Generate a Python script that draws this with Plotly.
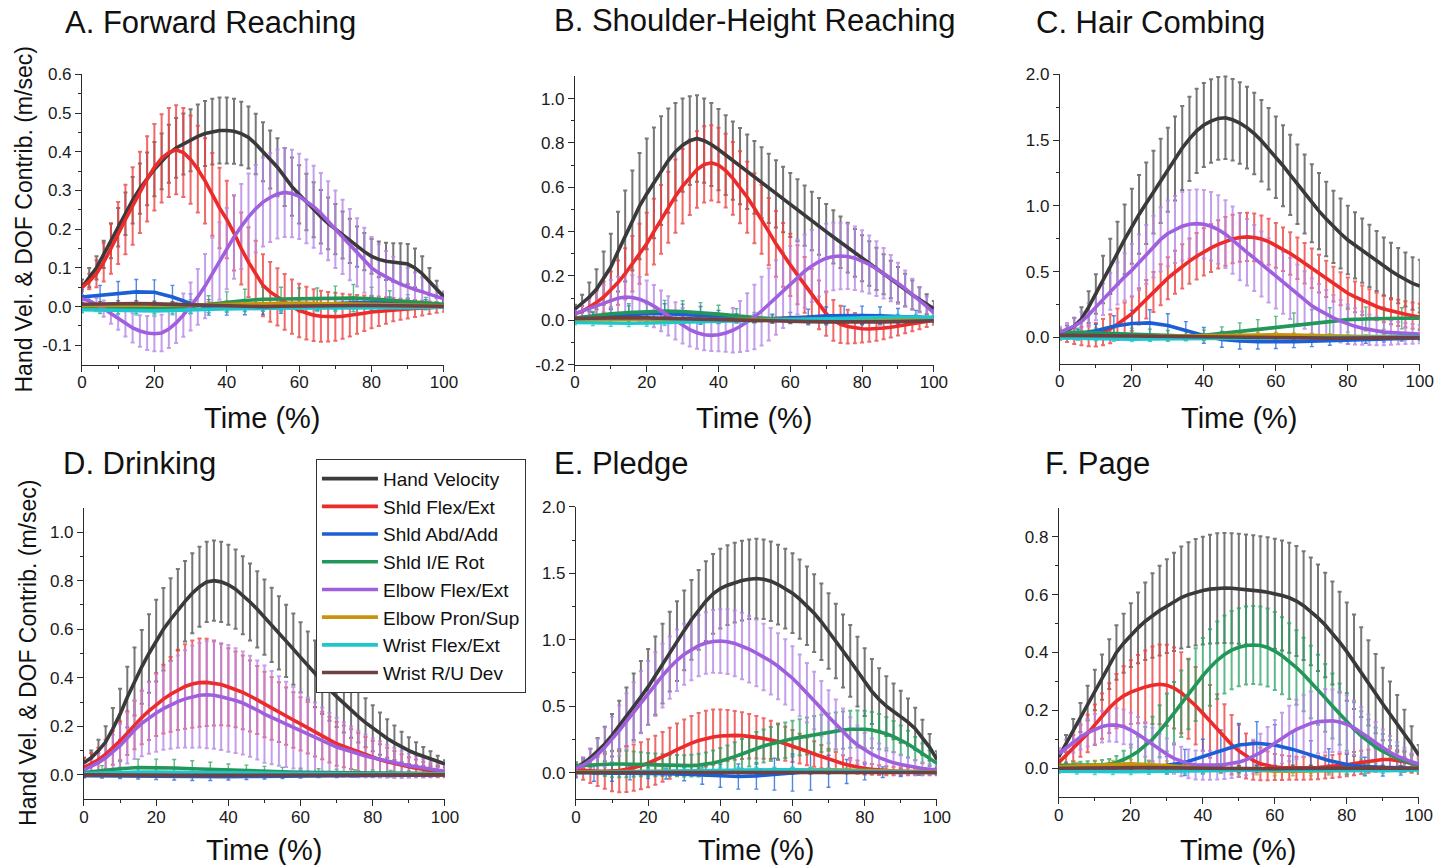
import plotly.graph_objects as go

W, H = 1446, 865

# Time base (% of movement): main contributors sampled every 2 %, small ones every 5 %
T2 = list(range(0, 101, 2))
T5 = list(range(0, 101, 5))

SERIES = ["Hand Velocity", "Shld Flex/Ext", "Shld Abd/Add", "Shld I/E Rot",
          "Elbow Flex/Ext", "Elbow Pron/Sup", "Wrist Flex/Ext", "Wrist R/U Dev"]

LINE_COLORS = ["#3a3a3a", "#ec2b2b", "#1c5fd4", "#23975a",
               "#a060de", "#c8940c", "#1fc6cc", "#6e4242"]
BAR_COLORS = ["rgba(95,95,95,0.85)", "rgba(236,66,66,0.8)", "rgba(35,105,225,0.8)", "rgba(40,160,95,0.75)",
              "rgba(182,134,230,0.8)", "rgba(205,155,30,0.8)", "rgba(35,200,205,0.8)", "rgba(120,75,75,0.8)"]

# ---------------- A. Forward Reaching ----------------
A_HAND = [0.05, 0.075, 0.10, 0.135, 0.17, 0.205, 0.24, 0.275, 0.305, 0.33,
          0.355, 0.375, 0.395, 0.41, 0.42, 0.43, 0.44, 0.447, 0.452, 0.455,
          0.455, 0.453, 0.447, 0.437, 0.42, 0.40, 0.38, 0.36, 0.335, 0.31,
          0.29, 0.27, 0.25, 0.232, 0.215, 0.20, 0.185, 0.17, 0.155, 0.142,
          0.13, 0.122, 0.117, 0.114, 0.112, 0.11, 0.10, 0.085, 0.065, 0.045, 0.025]
A_HAND_SD = [0.02, 0.025, 0.03, 0.035, 0.045, 0.05, 0.055, 0.06, 0.065, 0.068,
             0.07, 0.072, 0.075, 0.077, 0.079, 0.08, 0.082, 0.084, 0.085, 0.085,
             0.085, 0.084, 0.082, 0.08, 0.078, 0.076, 0.075, 0.075, 0.075, 0.075,
             0.075, 0.073, 0.071, 0.069, 0.067, 0.065, 0.061, 0.057, 0.052, 0.048,
             0.045, 0.046, 0.048, 0.05, 0.052, 0.052, 0.05, 0.045, 0.035, 0.022, 0.01]
A_FLEX = [0.05, 0.065, 0.085, 0.115, 0.15, 0.19, 0.225, 0.26, 0.295, 0.33,
          0.36, 0.383, 0.398, 0.405, 0.398, 0.38, 0.355, 0.325, 0.29, 0.255,
          0.225, 0.19, 0.15, 0.115, 0.085, 0.055, 0.038, 0.025, 0.012, 0.0,
          -0.01, -0.017, -0.022, -0.025, -0.026, -0.026, -0.025, -0.023, -0.02, -0.017,
          -0.014, -0.012, -0.01, -0.008, -0.007, -0.006, -0.005, -0.004, -0.003, -0.002, -0.001]
A_FLEX_SD = [0.01, 0.02, 0.035, 0.05, 0.065, 0.08, 0.09, 0.1, 0.105, 0.11,
             0.112, 0.114, 0.115, 0.115, 0.115, 0.114, 0.112, 0.11, 0.107, 0.104,
             0.1, 0.097, 0.093, 0.09, 0.085, 0.08, 0.077, 0.074, 0.072, 0.07,
             0.069, 0.068, 0.067, 0.066, 0.064, 0.062, 0.058, 0.054, 0.05, 0.046,
             0.042, 0.038, 0.034, 0.03, 0.027, 0.025, 0.022, 0.019, 0.016, 0.014, 0.012]
A_ELB = [0.02, 0.015, 0.005, -0.005, -0.018, -0.03, -0.043, -0.055, -0.063, -0.068,
         -0.07, -0.068, -0.058, -0.042, -0.022, 0.0, 0.025, 0.053, 0.085, 0.118,
         0.15, 0.18, 0.207, 0.232, 0.253, 0.27, 0.282, 0.291, 0.295, 0.292,
         0.285, 0.272, 0.258, 0.241, 0.222, 0.2, 0.18, 0.16, 0.14, 0.12,
         0.1, 0.087, 0.076, 0.067, 0.058, 0.05, 0.044, 0.038, 0.032, 0.026, 0.02]
A_ELB_SD = [0.01, 0.013, 0.017, 0.021, 0.026, 0.03, 0.034, 0.038, 0.041, 0.044,
            0.045, 0.047, 0.049, 0.052, 0.056, 0.062, 0.072, 0.083, 0.093, 0.1,
            0.105, 0.108, 0.11, 0.112, 0.113, 0.115, 0.115, 0.115, 0.115, 0.113,
            0.11, 0.108, 0.106, 0.104, 0.102, 0.1, 0.096, 0.092, 0.088, 0.084,
            0.08, 0.074, 0.068, 0.062, 0.056, 0.05, 0.044, 0.038, 0.032, 0.026, 0.02]
A_ABD = [0.025, 0.03, 0.035, 0.038, 0.037, 0.025, 0.008, -0.002, -0.005, -0.006, -0.005,
         -0.002, 0.002, 0.005, 0.008, 0.01, 0.012, 0.012, 0.01, 0.008, 0.005]
A_ABD_SD = [0.02, 0.025, 0.03, 0.032, 0.032, 0.03, 0.025, 0.02, 0.017, 0.015, 0.015,
            0.015, 0.015, 0.015, 0.015, 0.015, 0.015, 0.013, 0.012, 0.01, 0.008]
A_ROT = [-0.005, -0.005, -0.006, -0.006, -0.005, -0.003, 0.0, 0.006, 0.012, 0.016, 0.019,
         0.02, 0.02, 0.02, 0.021, 0.022, 0.02, 0.017, 0.013, 0.01, 0.006]
A_ROT_SD = [0.01, 0.012, 0.012, 0.012, 0.013, 0.015, 0.018, 0.022, 0.026, 0.029, 0.031,
            0.03, 0.028, 0.028, 0.032, 0.035, 0.03, 0.024, 0.018, 0.014, 0.01]
A_PRON = [0.003, 0.003, 0.002, 0.002, 0.002, 0.003, 0.004, 0.005, 0.006, 0.007, 0.008,
          0.009, 0.009, 0.008, 0.008, 0.007, 0.006, 0.005, 0.004, 0.003, 0.002]
A_PRON_SD = [0.006, 0.006, 0.007, 0.007, 0.007, 0.007, 0.008, 0.008, 0.009, 0.009, 0.01,
             0.01, 0.01, 0.01, 0.01, 0.009, 0.009, 0.008, 0.007, 0.006, 0.005]
A_WFE = [-0.008, -0.009, -0.01, -0.011, -0.011, -0.01, -0.008, -0.006, -0.005, -0.004, -0.004,
         -0.004, -0.005, -0.005, -0.005, -0.005, -0.004, -0.004, -0.003, -0.002, -0.001]
A_WFE_SD = [0.008, 0.009, 0.01, 0.011, 0.011, 0.011, 0.01, 0.009, 0.008, 0.008, 0.008,
            0.008, 0.008, 0.008, 0.008, 0.008, 0.008, 0.007, 0.007, 0.006, 0.005]
A_RUD = [0.006, 0.007, 0.008, 0.008, 0.007, 0.006, 0.004, 0.002, 0.001, 0.0, 0.0,
         0.001, 0.002, 0.003, 0.003, 0.003, 0.003, 0.002, 0.002, 0.001, 0.001]
A_RUD_SD = [0.005, 0.006, 0.007, 0.007, 0.007, 0.006, 0.006, 0.005, 0.005, 0.005, 0.005,
            0.005, 0.005, 0.005, 0.005, 0.005, 0.005, 0.005, 0.004, 0.004, 0.004]

# ---------------- B. Shoulder-Height Reaching ----------------
B_HAND = [0.05, 0.075, 0.105, 0.14, 0.19, 0.24, 0.31, 0.38, 0.45, 0.515,
          0.57, 0.62, 0.675, 0.72, 0.76, 0.79, 0.81, 0.82, 0.81, 0.793,
          0.77, 0.745, 0.72, 0.695, 0.67, 0.645, 0.62, 0.595, 0.57, 0.545,
          0.52, 0.496, 0.472, 0.448, 0.424, 0.4, 0.376, 0.352, 0.328, 0.304,
          0.28, 0.256, 0.232, 0.208, 0.184, 0.16, 0.137, 0.115, 0.094, 0.073, 0.052]
B_HAND_SD = [0.02, 0.04, 0.065, 0.09, 0.12, 0.15, 0.18, 0.205, 0.225, 0.24,
             0.25, 0.25, 0.245, 0.235, 0.22, 0.21, 0.2, 0.195, 0.19, 0.187,
             0.183, 0.18, 0.176, 0.172, 0.168, 0.164, 0.16, 0.156, 0.152, 0.148,
             0.144, 0.14, 0.136, 0.132, 0.128, 0.124, 0.12, 0.116, 0.112, 0.108,
             0.104, 0.1, 0.095, 0.09, 0.085, 0.08, 0.073, 0.065, 0.055, 0.045, 0.035]
B_FLEX = [0.03, 0.04, 0.06, 0.08, 0.105, 0.135, 0.17, 0.21, 0.255, 0.3,
          0.345, 0.4, 0.455, 0.51, 0.56, 0.605, 0.645, 0.68, 0.703, 0.71,
          0.7, 0.675, 0.64, 0.6, 0.555, 0.505, 0.455, 0.4, 0.345, 0.295,
          0.25, 0.205, 0.16, 0.115, 0.07, 0.03, 0.0, -0.018, -0.028, -0.035,
          -0.038, -0.039, -0.038, -0.035, -0.031, -0.026, -0.02, -0.015, -0.01, -0.005, 0.0]
B_FLEX_SD = [0.01, 0.025, 0.04, 0.055, 0.07, 0.085, 0.1, 0.115, 0.125, 0.135,
             0.14, 0.148, 0.155, 0.16, 0.165, 0.168, 0.17, 0.172, 0.172, 0.17,
             0.168, 0.166, 0.164, 0.162, 0.16, 0.158, 0.155, 0.152, 0.148, 0.144,
             0.14, 0.133, 0.126, 0.118, 0.11, 0.1, 0.092, 0.084, 0.076, 0.068,
             0.062, 0.058, 0.054, 0.05, 0.046, 0.042, 0.038, 0.034, 0.03, 0.025, 0.02]
B_ELB = [0.03, 0.042, 0.055, 0.068, 0.08, 0.092, 0.1, 0.105, 0.103, 0.095,
         0.082, 0.064, 0.043, 0.02, -0.003, -0.024, -0.042, -0.056, -0.065, -0.068,
         -0.065, -0.057, -0.045, -0.028, -0.008, 0.015, 0.042, 0.072, 0.103, 0.135,
         0.165, 0.195, 0.222, 0.245, 0.265, 0.28, 0.288, 0.29, 0.288, 0.28,
         0.268, 0.252, 0.233, 0.212, 0.19, 0.167, 0.143, 0.118, 0.092, 0.063, 0.033]
B_ELB_SD = [0.02, 0.035, 0.05, 0.065, 0.08, 0.09, 0.097, 0.1, 0.1, 0.1,
            0.098, 0.095, 0.092, 0.088, 0.084, 0.08, 0.076, 0.072, 0.07, 0.07,
            0.075, 0.085, 0.1, 0.115, 0.13, 0.145, 0.155, 0.163, 0.168, 0.17,
            0.17, 0.168, 0.165, 0.162, 0.158, 0.155, 0.152, 0.15, 0.147, 0.143,
            0.138, 0.131, 0.123, 0.114, 0.104, 0.093, 0.082, 0.07, 0.057, 0.044, 0.03]
B_ABD = [0.01, 0.015, 0.02, 0.025, 0.03, 0.03, 0.028, 0.022, 0.015, 0.01, 0.008,
         0.008, 0.01, 0.015, 0.02, 0.022, 0.022, 0.02, 0.018, 0.015, 0.01]
B_ABD_SD = [0.015, 0.02, 0.03, 0.04, 0.045, 0.045, 0.045, 0.04, 0.03, 0.02, 0.018,
            0.02, 0.025, 0.035, 0.04, 0.042, 0.042, 0.04, 0.035, 0.03, 0.02]
B_ROT = [0.01, 0.02, 0.03, 0.035, 0.04, 0.042, 0.04, 0.035, 0.028, 0.02, 0.012,
         0.006, 0.003, 0.002, 0.002, 0.003, 0.003, 0.003, 0.003, 0.003, 0.003]
B_ROT_SD = [0.01, 0.02, 0.03, 0.04, 0.045, 0.048, 0.048, 0.045, 0.04, 0.032, 0.024,
            0.018, 0.015, 0.014, 0.014, 0.014, 0.014, 0.013, 0.012, 0.011, 0.01]
B_PRON = [0.004, 0.005, 0.006, 0.006, 0.006, 0.005, 0.004, 0.003, 0.003, 0.003, 0.003,
          0.004, 0.005, 0.006, 0.006, 0.006, 0.005, 0.004, 0.003, 0.002, 0.001]
B_PRON_SD = [0.006, 0.007, 0.008, 0.008, 0.008, 0.008, 0.008, 0.007, 0.007, 0.007, 0.007,
             0.007, 0.008, 0.008, 0.008, 0.008, 0.008, 0.007, 0.006, 0.006, 0.005]
B_WFE = [-0.01, -0.012, -0.013, -0.013, -0.012, -0.01, -0.007, -0.004, -0.001, 0.001, 0.002,
         0.003, 0.004, 0.006, 0.008, 0.01, 0.012, 0.014, 0.015, 0.015, 0.014]
B_WFE_SD = [0.01, 0.012, 0.014, 0.015, 0.015, 0.014, 0.012, 0.01, 0.009, 0.009, 0.009,
            0.009, 0.01, 0.011, 0.012, 0.013, 0.014, 0.014, 0.013, 0.012, 0.01]
B_RUD = [0.008, 0.01, 0.012, 0.012, 0.011, 0.009, 0.006, 0.003, 0.0, -0.002, -0.003,
         -0.004, -0.005, -0.006, -0.007, -0.008, -0.008, -0.007, -0.006, -0.004, -0.002]
B_RUD_SD = [0.006, 0.007, 0.008, 0.008, 0.008, 0.007, 0.007, 0.006, 0.006, 0.006, 0.006,
            0.006, 0.006, 0.006, 0.006, 0.006, 0.006, 0.006, 0.005, 0.005, 0.004]

# ---------------- C. Hair Combing ----------------
C_HAND = [0.03, 0.05, 0.085, 0.14, 0.23, 0.33, 0.44, 0.54, 0.64, 0.745,
          0.845, 0.935, 1.02, 1.105, 1.19, 1.275, 1.36, 1.44, 1.51, 1.57,
          1.615, 1.645, 1.665, 1.67, 1.655, 1.63, 1.595, 1.55, 1.495, 1.435,
          1.37, 1.305, 1.235, 1.165, 1.09, 1.02, 0.96, 0.9, 0.84, 0.79,
          0.74, 0.7, 0.66, 0.62, 0.58, 0.54, 0.505, 0.47, 0.44, 0.41, 0.39]
C_HAND_SD = [0.02, 0.04, 0.065, 0.09, 0.12, 0.15, 0.18, 0.21, 0.24, 0.265,
             0.285, 0.3, 0.31, 0.315, 0.32, 0.32, 0.32, 0.32, 0.32, 0.32,
             0.32, 0.318, 0.315, 0.313, 0.31, 0.31, 0.31, 0.31, 0.31, 0.31,
             0.31, 0.308, 0.305, 0.302, 0.3, 0.297, 0.29, 0.283, 0.275, 0.267,
             0.26, 0.252, 0.244, 0.236, 0.228, 0.22, 0.215, 0.21, 0.205, 0.2, 0.2]
C_FLEX = [0.02, 0.015, 0.01, 0.01, 0.012, 0.02, 0.04, 0.065, 0.1, 0.14,
          0.18, 0.235, 0.29, 0.345, 0.4, 0.45, 0.495, 0.54, 0.58, 0.617,
          0.65, 0.68, 0.707, 0.73, 0.748, 0.76, 0.764, 0.76, 0.748, 0.728,
          0.7, 0.67, 0.638, 0.602, 0.564, 0.525, 0.485, 0.445, 0.405, 0.37,
          0.335, 0.308, 0.282, 0.258, 0.235, 0.215, 0.2, 0.187, 0.175, 0.165, 0.155]
C_FLEX_SD = [0.04, 0.05, 0.06, 0.07, 0.08, 0.09, 0.1, 0.11, 0.12, 0.125,
             0.13, 0.138, 0.146, 0.152, 0.156, 0.16, 0.164, 0.168, 0.172, 0.176,
             0.18, 0.182, 0.184, 0.185, 0.185, 0.185, 0.184, 0.182, 0.179, 0.175,
             0.17, 0.166, 0.162, 0.158, 0.154, 0.15, 0.144, 0.138, 0.132, 0.126,
             0.12, 0.116, 0.112, 0.108, 0.104, 0.1, 0.1, 0.1, 0.1, 0.1, 0.1]
C_ELB = [0.04, 0.06, 0.085, 0.12, 0.17, 0.23, 0.29, 0.35, 0.41, 0.46,
         0.51, 0.57, 0.63, 0.69, 0.745, 0.79, 0.82, 0.845, 0.86, 0.865,
         0.86, 0.845, 0.82, 0.785, 0.74, 0.69, 0.647, 0.603, 0.558, 0.51,
         0.46, 0.416, 0.372, 0.328, 0.284, 0.24, 0.207, 0.175, 0.148, 0.123,
         0.1, 0.084, 0.07, 0.058, 0.048, 0.04, 0.036, 0.032, 0.029, 0.027, 0.025]
C_ELB_SD = [0.04, 0.05, 0.06, 0.075, 0.09, 0.1, 0.12, 0.14, 0.16, 0.18,
            0.2, 0.212, 0.225, 0.235, 0.245, 0.25, 0.255, 0.26, 0.26, 0.26,
            0.26, 0.26, 0.26, 0.258, 0.256, 0.255, 0.253, 0.251, 0.248, 0.244,
            0.24, 0.236, 0.232, 0.225, 0.218, 0.21, 0.198, 0.186, 0.174, 0.162,
            0.15, 0.138, 0.126, 0.116, 0.108, 0.1, 0.092, 0.085, 0.08, 0.075, 0.07]
C_ABD = [0.02, 0.03, 0.05, 0.085, 0.105, 0.11, 0.09, 0.05, 0.015, -0.015, -0.028,
         -0.033, -0.035, -0.033, -0.03, -0.025, -0.02, -0.015, -0.01, -0.007, -0.005]
C_ABD_SD = [0.02, 0.03, 0.05, 0.08, 0.1, 0.1, 0.09, 0.07, 0.06, 0.06, 0.06,
            0.055, 0.05, 0.045, 0.04, 0.035, 0.03, 0.03, 0.025, 0.02, 0.02]
C_ROT = [0.04, 0.04, 0.035, 0.03, 0.025, 0.018, 0.012, 0.01, 0.015, 0.03, 0.05,
         0.065, 0.08, 0.095, 0.11, 0.125, 0.135, 0.14, 0.145, 0.145, 0.145]
C_ROT_SD = [0.03, 0.03, 0.035, 0.04, 0.045, 0.045, 0.04, 0.035, 0.04, 0.05, 0.06,
            0.07, 0.08, 0.09, 0.1, 0.1, 0.095, 0.09, 0.085, 0.08, 0.08]
C_PRON = [0.0, 0.0, 0.0, 0.002, 0.004, 0.006, 0.008, 0.01, 0.013, 0.017, 0.02,
          0.021, 0.02, 0.017, 0.013, 0.01, 0.008, 0.007, 0.006, 0.005, 0.005]
C_PRON_SD = [0.01, 0.01, 0.01, 0.011, 0.012, 0.013, 0.014, 0.015, 0.016, 0.017, 0.018,
             0.018, 0.017, 0.016, 0.015, 0.014, 0.013, 0.012, 0.012, 0.011, 0.01]
C_WFE = [-0.005, -0.008, -0.01, -0.012, -0.013, -0.012, -0.01, -0.008, -0.006, -0.005, -0.004,
         -0.004, -0.004, -0.004, -0.003, -0.002, -0.001, 0.0, 0.002, 0.004, 0.005]
C_WFE_SD = [0.012, 0.014, 0.016, 0.017, 0.018, 0.018, 0.017, 0.016, 0.015, 0.015, 0.015,
            0.015, 0.015, 0.015, 0.014, 0.014, 0.013, 0.013, 0.013, 0.013, 0.013]
C_RUD = [0.015, 0.015, 0.014, 0.012, 0.01, 0.008, 0.006, 0.004, 0.002, 0.0, -0.002,
         -0.003, -0.004, -0.005, -0.006, -0.006, -0.006, -0.005, -0.004, -0.003, -0.002]
C_RUD_SD = [0.01, 0.01, 0.011, 0.012, 0.012, 0.012, 0.011, 0.01, 0.01, 0.01, 0.01,
            0.01, 0.01, 0.01, 0.01, 0.009, 0.009, 0.009, 0.008, 0.008, 0.008]

# ---------------- D. Drinking ----------------
D_HAND = [0.05, 0.07, 0.1, 0.135, 0.19, 0.25, 0.32, 0.385, 0.445, 0.5,
          0.553, 0.6, 0.64, 0.68, 0.715, 0.748, 0.775, 0.795, 0.8, 0.795,
          0.783, 0.765, 0.74, 0.712, 0.682, 0.65, 0.618, 0.585, 0.552, 0.518,
          0.484, 0.45, 0.416, 0.384, 0.352, 0.322, 0.293, 0.266, 0.24, 0.215,
          0.192, 0.17, 0.15, 0.132, 0.115, 0.1, 0.087, 0.076, 0.066, 0.056, 0.045]
D_HAND_SD = [0.02, 0.03, 0.045, 0.065, 0.085, 0.105, 0.125, 0.14, 0.152, 0.162,
             0.168, 0.17, 0.17, 0.168, 0.166, 0.165, 0.165, 0.165, 0.165, 0.165,
             0.165, 0.163, 0.161, 0.159, 0.157, 0.155, 0.153, 0.151, 0.149, 0.147,
             0.145, 0.141, 0.137, 0.133, 0.129, 0.125, 0.119, 0.113, 0.107, 0.101,
             0.095, 0.087, 0.079, 0.071, 0.063, 0.055, 0.047, 0.039, 0.031, 0.023, 0.015]
D_FLEX = [0.03, 0.045, 0.062, 0.085, 0.112, 0.14, 0.172, 0.205, 0.236, 0.264,
          0.29, 0.312, 0.332, 0.35, 0.364, 0.374, 0.38, 0.381, 0.378, 0.372,
          0.362, 0.352, 0.34, 0.325, 0.308, 0.29, 0.274, 0.258, 0.242, 0.226,
          0.21, 0.194, 0.178, 0.162, 0.145, 0.128, 0.117, 0.106, 0.094, 0.082,
          0.07, 0.062, 0.054, 0.046, 0.039, 0.033, 0.027, 0.022, 0.018, 0.014, 0.01]
D_FLEX_SD = [0.04, 0.045, 0.05, 0.06, 0.07, 0.08, 0.09, 0.1, 0.11, 0.12,
             0.13, 0.142, 0.154, 0.165, 0.174, 0.18, 0.182, 0.18, 0.175, 0.168,
             0.16, 0.156, 0.152, 0.146, 0.14, 0.135, 0.129, 0.123, 0.118, 0.114,
             0.11, 0.106, 0.102, 0.098, 0.094, 0.09, 0.086, 0.082, 0.078, 0.074,
             0.07, 0.064, 0.058, 0.052, 0.046, 0.04, 0.036, 0.032, 0.028, 0.024, 0.02]
D_ELB = [0.02, 0.035, 0.05, 0.07, 0.095, 0.12, 0.152, 0.185, 0.212, 0.235,
         0.255, 0.273, 0.288, 0.302, 0.313, 0.322, 0.328, 0.33, 0.328, 0.322,
         0.315, 0.306, 0.296, 0.283, 0.267, 0.25, 0.236, 0.222, 0.208, 0.194,
         0.18, 0.167, 0.154, 0.141, 0.128, 0.115, 0.105, 0.095, 0.086, 0.078,
         0.07, 0.063, 0.056, 0.049, 0.043, 0.038, 0.033, 0.028, 0.023, 0.019, 0.015]
D_ELB_SD = [0.02, 0.03, 0.04, 0.055, 0.07, 0.09, 0.105, 0.12, 0.135, 0.148,
            0.16, 0.17, 0.18, 0.19, 0.2, 0.21, 0.215, 0.22, 0.22, 0.22,
            0.22, 0.216, 0.212, 0.208, 0.204, 0.2, 0.192, 0.184, 0.176, 0.168,
            0.16, 0.152, 0.144, 0.136, 0.128, 0.12, 0.112, 0.104, 0.096, 0.088,
            0.08, 0.074, 0.068, 0.062, 0.056, 0.05, 0.044, 0.038, 0.032, 0.026, 0.02]
D_ABD = [-0.003, -0.004, -0.005, -0.006, -0.007, -0.008, -0.009, -0.009, -0.008, -0.007, -0.006,
         -0.005, -0.004, -0.003, -0.003, -0.002, -0.002, -0.002, -0.001, -0.001, 0.0]
D_ABD_SD = [0.008, 0.009, 0.01, 0.011, 0.012, 0.013, 0.014, 0.014, 0.013, 0.012, 0.011,
            0.01, 0.009, 0.008, 0.008, 0.007, 0.007, 0.006, 0.006, 0.005, 0.005]
D_ROT = [0.01, 0.018, 0.025, 0.03, 0.03, 0.028, 0.025, 0.022, 0.02, 0.018, 0.015,
         0.013, 0.011, 0.01, 0.009, 0.008, 0.008, 0.007, 0.006, 0.005, 0.005]
D_ROT_SD = [0.01, 0.02, 0.03, 0.035, 0.035, 0.035, 0.033, 0.03, 0.025, 0.022, 0.02,
            0.018, 0.016, 0.015, 0.014, 0.013, 0.012, 0.011, 0.01, 0.01, 0.01]
D_PRON = [0.002, 0.002, 0.003, 0.003, 0.004, 0.005, 0.005, 0.005, 0.005, 0.005, 0.004,
          0.004, 0.004, 0.004, 0.004, 0.004, 0.004, 0.003, 0.003, 0.003, 0.003]
D_PRON_SD = [0.005, 0.006, 0.007, 0.008, 0.008, 0.008, 0.008, 0.008, 0.008, 0.008, 0.007,
             0.007, 0.007, 0.007, 0.007, 0.006, 0.006, 0.006, 0.006, 0.005, 0.005]
D_WFE = [0.005, 0.008, 0.01, 0.012, 0.012, 0.011, 0.01, 0.009, 0.008, 0.007, 0.006,
         0.005, 0.005, 0.004, 0.004, 0.003, 0.003, 0.003, 0.002, 0.002, 0.002]
D_WFE_SD = [0.008, 0.01, 0.012, 0.013, 0.013, 0.013, 0.012, 0.011, 0.01, 0.01, 0.009,
            0.009, 0.009, 0.008, 0.008, 0.008, 0.007, 0.007, 0.007, 0.006, 0.006]
D_RUD = [0.0, -0.001, -0.002, -0.002, -0.002, -0.002, -0.002, -0.002, -0.001, -0.001, 0.0,
         0.0, 0.0, 0.001, 0.001, 0.001, 0.001, 0.001, 0.001, 0.0, 0.0]
D_RUD_SD = [0.005, 0.005, 0.006, 0.006, 0.006, 0.006, 0.006, 0.006, 0.006, 0.006, 0.005,
            0.005, 0.005, 0.005, 0.005, 0.005, 0.005, 0.005, 0.005, 0.004, 0.004]

# ---------------- E. Pledge ----------------
E_HAND = [0.04, 0.07, 0.11, 0.16, 0.215, 0.28, 0.35, 0.42, 0.495, 0.57,
          0.645, 0.73, 0.82, 0.91, 0.99, 1.07, 1.15, 1.225, 1.29, 1.345,
          1.385, 1.41, 1.43, 1.445, 1.455, 1.46, 1.455, 1.44, 1.415, 1.385,
          1.35, 1.305, 1.255, 1.2, 1.135, 1.065, 0.99, 0.915, 0.84, 0.76,
          0.68, 0.61, 0.55, 0.5, 0.46, 0.42, 0.38, 0.33, 0.265, 0.19, 0.1]
E_HAND_SD = [0.02, 0.04, 0.07, 0.1, 0.13, 0.16, 0.19, 0.22, 0.25, 0.27,
             0.285, 0.295, 0.3, 0.3, 0.3, 0.3, 0.3, 0.3, 0.3, 0.3,
             0.3, 0.3, 0.3, 0.3, 0.3, 0.3, 0.3, 0.3, 0.3, 0.3,
             0.3, 0.298, 0.295, 0.292, 0.288, 0.284, 0.28, 0.275, 0.27, 0.262,
             0.255, 0.245, 0.235, 0.225, 0.21, 0.195, 0.178, 0.158, 0.132, 0.1, 0.06]
E_ELB = [0.03, 0.055, 0.09, 0.135, 0.19, 0.25, 0.315, 0.385, 0.455, 0.53,
         0.6, 0.665, 0.73, 0.79, 0.845, 0.89, 0.925, 0.955, 0.975, 0.987,
         0.99, 0.985, 0.972, 0.952, 0.928, 0.9, 0.87, 0.838, 0.8, 0.758,
         0.71, 0.656, 0.6, 0.542, 0.482, 0.42, 0.362, 0.306, 0.254, 0.208,
         0.17, 0.138, 0.112, 0.09, 0.073, 0.06, 0.048, 0.038, 0.03, 0.024, 0.02]
E_ELB_SD = [0.03, 0.06, 0.09, 0.12, 0.15, 0.17, 0.19, 0.21, 0.225, 0.235,
            0.24, 0.24, 0.24, 0.235, 0.232, 0.23, 0.23, 0.23, 0.232, 0.236,
            0.24, 0.244, 0.247, 0.25, 0.25, 0.25, 0.25, 0.25, 0.248, 0.245,
            0.24, 0.232, 0.224, 0.216, 0.208, 0.2, 0.188, 0.176, 0.162, 0.146,
            0.13, 0.118, 0.106, 0.094, 0.082, 0.07, 0.062, 0.054, 0.046, 0.038, 0.03]
E_FLEX = [0.02, 0.015, 0.011, 0.009, 0.009, 0.01, 0.015, 0.024, 0.037, 0.052,
          0.07, 0.093, 0.118, 0.145, 0.173, 0.2, 0.222, 0.241, 0.256, 0.267,
          0.275, 0.279, 0.28, 0.278, 0.273, 0.265, 0.256, 0.246, 0.233, 0.217,
          0.2, 0.18, 0.16, 0.14, 0.12, 0.1, 0.083, 0.067, 0.053, 0.041,
          0.031, 0.024, 0.018, 0.014, 0.012, 0.01, 0.008, 0.006, 0.004, 0.002, 0.0]
E_FLEX_SD = [0.05, 0.07, 0.09, 0.11, 0.13, 0.15, 0.163, 0.17, 0.174, 0.177,
             0.18, 0.184, 0.188, 0.192, 0.196, 0.2, 0.204, 0.208, 0.21, 0.208,
             0.2, 0.192, 0.184, 0.176, 0.168, 0.16, 0.152, 0.144, 0.136, 0.128,
             0.12, 0.112, 0.104, 0.096, 0.088, 0.08, 0.072, 0.064, 0.056, 0.05,
             0.045, 0.041, 0.037, 0.034, 0.032, 0.03, 0.028, 0.026, 0.024, 0.022, 0.02]
E_ROT = [0.05, 0.054, 0.058, 0.062, 0.064, 0.065, 0.065, 0.065, 0.064, 0.062,
         0.06, 0.058, 0.056, 0.054, 0.052, 0.051, 0.052, 0.056, 0.063, 0.072,
         0.085, 0.1, 0.12, 0.14, 0.162, 0.185, 0.2, 0.215, 0.23, 0.243,
         0.255, 0.265, 0.275, 0.285, 0.295, 0.305, 0.313, 0.32, 0.326, 0.328,
         0.326, 0.32, 0.308, 0.292, 0.27, 0.245, 0.215, 0.18, 0.145, 0.108, 0.07]
E_ROT_SD = [0.03, 0.045, 0.06, 0.075, 0.09, 0.1, 0.1, 0.1, 0.095, 0.09,
            0.088, 0.085, 0.082, 0.08, 0.08, 0.08, 0.082, 0.085, 0.088, 0.094,
            0.1, 0.104, 0.108, 0.112, 0.116, 0.12, 0.124, 0.128, 0.131, 0.133,
            0.135, 0.137, 0.139, 0.14, 0.14, 0.14, 0.14, 0.14, 0.14, 0.14,
            0.14, 0.136, 0.132, 0.126, 0.118, 0.11, 0.1, 0.088, 0.074, 0.058, 0.04]
E_ABD = [0.0, -0.005, -0.005, -0.005, -0.005, -0.008, -0.012, -0.018, -0.025, -0.03, -0.025,
         -0.012, 0.0, 0.008, 0.01, 0.008, 0.005, 0.003, 0.0, 0.0, 0.0]
E_ABD_SD = [0.04, 0.06, 0.06, 0.05, 0.04, 0.04, 0.05, 0.07, 0.085, 0.095, 0.1,
            0.12, 0.14, 0.14, 0.12, 0.09, 0.06, 0.04, 0.03, 0.02, 0.015]
E_PRON = [0.005, 0.005, 0.005, 0.005, 0.006, 0.007, 0.008, 0.01, 0.012, 0.014, 0.016,
          0.018, 0.02, 0.021, 0.02, 0.018, 0.014, 0.01, 0.007, 0.005, 0.004]
E_PRON_SD = [0.01, 0.01, 0.011, 0.012, 0.012, 0.013, 0.014, 0.015, 0.016, 0.017, 0.018,
             0.018, 0.018, 0.018, 0.017, 0.016, 0.015, 0.013, 0.012, 0.01, 0.01]
E_WFE = [0.0, 0.002, 0.005, 0.007, 0.01, 0.012, 0.015, 0.017, 0.02, 0.021, 0.022,
         0.021, 0.02, 0.018, 0.015, 0.012, 0.01, 0.007, 0.005, 0.002, 0.0]
E_WFE_SD = [0.01, 0.012, 0.014, 0.016, 0.018, 0.02, 0.02, 0.02, 0.02, 0.02, 0.02,
            0.02, 0.02, 0.019, 0.018, 0.016, 0.014, 0.012, 0.01, 0.009, 0.008]
E_RUD = [0.0, 0.0, 0.001, 0.002, 0.003, 0.003, 0.003, 0.002, 0.001, 0.0, -0.001,
         -0.002, -0.002, -0.002, -0.001, 0.0, 0.001, 0.002, 0.002, 0.001, 0.0]
E_RUD_SD = [0.008, 0.009, 0.01, 0.01, 0.01, 0.01, 0.01, 0.01, 0.01, 0.01, 0.01,
            0.01, 0.01, 0.01, 0.01, 0.01, 0.009, 0.009, 0.008, 0.008, 0.007]

# ---------------- F. Page ----------------
F_HAND = [0.04, 0.085, 0.13, 0.175, 0.225, 0.27, 0.315, 0.36, 0.4, 0.432,
          0.46, 0.485, 0.508, 0.528, 0.545, 0.56, 0.575, 0.59, 0.6, 0.608,
          0.614, 0.619, 0.622, 0.623, 0.622, 0.62, 0.618, 0.615, 0.612, 0.608,
          0.603, 0.597, 0.589, 0.578, 0.562, 0.542, 0.52, 0.495, 0.467, 0.436,
          0.403, 0.368, 0.332, 0.295, 0.258, 0.222, 0.188, 0.155, 0.12, 0.083, 0.045]
F_HAND_SD = [0.02, 0.03, 0.04, 0.05, 0.06, 0.07, 0.078, 0.086, 0.094, 0.102,
             0.11, 0.122, 0.134, 0.146, 0.155, 0.162, 0.17, 0.176, 0.181, 0.184,
             0.186, 0.188, 0.19, 0.19, 0.19, 0.19, 0.19, 0.19, 0.19, 0.19,
             0.19, 0.19, 0.19, 0.19, 0.188, 0.186, 0.184, 0.181, 0.178, 0.174,
             0.17, 0.163, 0.155, 0.147, 0.137, 0.125, 0.112, 0.098, 0.082, 0.062, 0.035]
F_ROT = [0.01, 0.01, 0.01, 0.01, 0.01, 0.011, 0.012, 0.014, 0.02, 0.03,
         0.042, 0.058, 0.078, 0.1, 0.128, 0.158, 0.19, 0.223, 0.256, 0.289,
         0.32, 0.348, 0.373, 0.393, 0.408, 0.418, 0.424, 0.426, 0.424, 0.417,
         0.405, 0.389, 0.37, 0.348, 0.324, 0.298, 0.271, 0.243, 0.215, 0.187,
         0.16, 0.135, 0.112, 0.091, 0.073, 0.058, 0.045, 0.034, 0.025, 0.017, 0.01]
F_ROT_SD = [0.01, 0.01, 0.01, 0.012, 0.014, 0.015, 0.016, 0.018, 0.022, 0.03,
            0.04, 0.052, 0.065, 0.078, 0.09, 0.1, 0.108, 0.115, 0.121, 0.126,
            0.13, 0.132, 0.134, 0.135, 0.135, 0.135, 0.135, 0.135, 0.135, 0.135,
            0.135, 0.133, 0.131, 0.129, 0.127, 0.125, 0.121, 0.117, 0.112, 0.106,
            0.1, 0.093, 0.085, 0.077, 0.068, 0.06, 0.052, 0.044, 0.036, 0.028, 0.02]
F_FLEX = [0.02, 0.045, 0.07, 0.095, 0.12, 0.15, 0.18, 0.208, 0.232, 0.25,
          0.263, 0.273, 0.281, 0.287, 0.29, 0.287, 0.277, 0.261, 0.24, 0.216,
          0.19, 0.162, 0.134, 0.106, 0.081, 0.06, 0.042, 0.027, 0.015, 0.008,
          0.004, 0.002, 0.001, 0.0, 0.0, 0.001, 0.002, 0.004, 0.006, 0.009,
          0.012, 0.016, 0.02, 0.024, 0.028, 0.03, 0.03, 0.027, 0.022, 0.016, 0.01]
F_FLEX_SD = [0.02, 0.03, 0.045, 0.055, 0.065, 0.07, 0.078, 0.086, 0.094, 0.102,
             0.11, 0.118, 0.126, 0.134, 0.138, 0.14, 0.14, 0.14, 0.138, 0.134,
             0.13, 0.126, 0.122, 0.115, 0.103, 0.09, 0.078, 0.067, 0.057, 0.05,
             0.045, 0.043, 0.041, 0.04, 0.04, 0.04, 0.04, 0.04, 0.04, 0.04,
             0.04, 0.04, 0.04, 0.04, 0.04, 0.04, 0.038, 0.036, 0.034, 0.032, 0.03]
F_ELB = [0.05, 0.07, 0.09, 0.108, 0.123, 0.135, 0.144, 0.149, 0.149, 0.143,
         0.132, 0.117, 0.1, 0.082, 0.064, 0.048, 0.034, 0.023, 0.015, 0.011,
         0.01, 0.01, 0.011, 0.013, 0.016, 0.021, 0.029, 0.04, 0.054, 0.07,
         0.087, 0.104, 0.12, 0.134, 0.146, 0.155, 0.161, 0.164, 0.164, 0.16,
         0.152, 0.14, 0.124, 0.106, 0.088, 0.07, 0.055, 0.042, 0.031, 0.022, 0.015]
F_ELB_SD = [0.02, 0.028, 0.036, 0.043, 0.048, 0.052, 0.055, 0.057, 0.058, 0.06,
            0.06, 0.06, 0.06, 0.058, 0.056, 0.055, 0.053, 0.051, 0.05, 0.05,
            0.05, 0.05, 0.05, 0.05, 0.05, 0.05, 0.053, 0.058, 0.065, 0.072,
            0.08, 0.088, 0.096, 0.103, 0.108, 0.11, 0.11, 0.11, 0.108, 0.104,
            0.1, 0.094, 0.087, 0.08, 0.072, 0.064, 0.056, 0.048, 0.04, 0.03, 0.02]
F_ABD = [0.0, 0.0, 0.0, 0.0, 0.002, 0.005, 0.01, 0.02, 0.04, 0.062, 0.08,
         0.086, 0.08, 0.065, 0.045, 0.027, 0.013, 0.006, 0.003, 0.001, 0.0]
F_ABD_SD = [0.01, 0.01, 0.01, 0.012, 0.015, 0.02, 0.03, 0.045, 0.06, 0.07, 0.075,
            0.075, 0.07, 0.06, 0.05, 0.04, 0.035, 0.032, 0.03, 0.025, 0.015]
F_PRON = [0.005, 0.008, 0.01, 0.012, 0.015, 0.013, 0.01, 0.005, 0.0, -0.003, -0.005,
          -0.008, -0.01, -0.01, -0.01, -0.009, -0.008, -0.006, -0.005, -0.003, 0.0]
F_PRON_SD = [0.01, 0.012, 0.014, 0.015, 0.015, 0.015, 0.015, 0.015, 0.015, 0.015, 0.015,
             0.015, 0.016, 0.016, 0.016, 0.015, 0.014, 0.013, 0.012, 0.011, 0.01]
F_WFE = [-0.01, -0.011, -0.012, -0.012, -0.012, -0.011, -0.01, -0.009, -0.008, -0.007, -0.006,
         -0.006, -0.006, -0.007, -0.008, -0.009, -0.01, -0.01, -0.009, -0.008, -0.006]
F_WFE_SD = [0.008, 0.009, 0.01, 0.01, 0.01, 0.01, 0.01, 0.01, 0.01, 0.01, 0.01,
            0.01, 0.01, 0.01, 0.01, 0.01, 0.01, 0.01, 0.009, 0.009, 0.008]
F_RUD = [0.0, 0.001, 0.002, 0.002, 0.002, 0.002, 0.001, 0.0, -0.001, -0.002, -0.002,
         -0.002, -0.002, -0.001, 0.0, 0.0, 0.001, 0.001, 0.001, 0.0, 0.0]
F_RUD_SD = [0.008, 0.009, 0.01, 0.01, 0.01, 0.01, 0.01, 0.01, 0.01, 0.01, 0.011,
            0.011, 0.011, 0.011, 0.01, 0.01, 0.01, 0.01, 0.009, 0.009, 0.008]

X_TICKS = [0, 20, 40, 60, 80, 100]
A_YTICKS = [-0.1, 0.0, 0.1, 0.2, 0.3, 0.4, 0.5, 0.6]
B_YTICKS = [-0.2, 0.0, 0.2, 0.4, 0.6, 0.8, 1.0]
C_YTICKS = [0.0, 0.5, 1.0, 1.5, 2.0]
D_YTICKS = [0.0, 0.2, 0.4, 0.6, 0.8, 1.0]
E_YTICKS = [0.0, 0.5, 1.0, 1.5, 2.0]
F_YTICKS = [0.0, 0.2, 0.4, 0.6, 0.8]

Y_TITLE = "Hand Vel. & DOF Contrib. (m/sec)"
X_TITLE = "Time (%)"

# series in legend order: (x, mean, sd)
PANELS = [
    dict(title="A. Forward Reaching", tpx=(62, 22.5), xpx=(81, 443), ypx=(74, 364),
         yr=(-0.15, 0.6), ticks=A_YTICKS, minor=0.05, ytitle=(23, 219),
         data=[(T2, A_HAND, A_HAND_SD), (T2, A_FLEX, A_FLEX_SD), (T5, A_ABD, A_ABD_SD),
               (T5, A_ROT, A_ROT_SD), (T2, A_ELB, A_ELB_SD), (T5, A_PRON, A_PRON_SD),
               (T5, A_WFE, A_WFE_SD), (T5, A_RUD, A_RUD_SD)]),
    dict(title="B. Shoulder-Height Reaching", tpx=(551, 20.5), xpx=(574, 933), ypx=(76, 364),
         yr=(-0.2, 1.1), ticks=B_YTICKS, minor=0.1, ytitle=None,
         data=[(T2, B_HAND, B_HAND_SD), (T2, B_FLEX, B_FLEX_SD), (T5, B_ABD, B_ABD_SD),
               (T5, B_ROT, B_ROT_SD), (T2, B_ELB, B_ELB_SD), (T5, B_PRON, B_PRON_SD),
               (T5, B_WFE, B_WFE_SD), (T5, B_RUD, B_RUD_SD)]),
    dict(title="C. Hair Combing", tpx=(1033, 22.5), xpx=(1059, 1419), ypx=(74, 363),
         yr=(-0.2, 2.0), ticks=C_YTICKS, minor=0.25, ytitle=None,
         data=[(T2, C_HAND, C_HAND_SD), (T2, C_FLEX, C_FLEX_SD), (T5, C_ABD, C_ABD_SD),
               (T5, C_ROT, C_ROT_SD), (T2, C_ELB, C_ELB_SD), (T5, C_PRON, C_PRON_SD),
               (T5, C_WFE, C_WFE_SD), (T5, C_RUD, C_RUD_SD)]),
    dict(title="D. Drinking", tpx=(60, 462.5), xpx=(83, 444), ypx=(507, 798),
         yr=(-0.1, 1.1), ticks=D_YTICKS, minor=0.1, ytitle=(27, 652),
         data=[(T2, D_HAND, D_HAND_SD), (T2, D_FLEX, D_FLEX_SD), (T5, D_ABD, D_ABD_SD),
               (T5, D_ROT, D_ROT_SD), (T2, D_ELB, D_ELB_SD), (T5, D_PRON, D_PRON_SD),
               (T5, D_WFE, D_WFE_SD), (T5, D_RUD, D_RUD_SD)]),
    dict(title="E. Pledge", tpx=(551, 462.5), xpx=(575, 936), ypx=(506, 798),
         yr=(-0.2, 2.0), ticks=E_YTICKS, minor=0.25, ytitle=None,
         data=[(T2, E_HAND, E_HAND_SD), (T2, E_FLEX, E_FLEX_SD), (T5, E_ABD, E_ABD_SD),
               (T2, E_ROT, E_ROT_SD), (T2, E_ELB, E_ELB_SD), (T5, E_PRON, E_PRON_SD),
               (T5, E_WFE, E_WFE_SD), (T5, E_RUD, E_RUD_SD)]),
    dict(title="F. Page", tpx=(1042, 462.5), xpx=(1058, 1418), ypx=(507, 796),
         yr=(-0.1, 0.9), ticks=F_YTICKS, minor=0.1, ytitle=None,
         data=[(T2, F_HAND, F_HAND_SD), (T2, F_FLEX, F_FLEX_SD), (T5, F_ABD, F_ABD_SD),
               (T2, F_ROT, F_ROT_SD), (T2, F_ELB, F_ELB_SD), (T5, F_PRON, F_PRON_SD),
               (T5, F_WFE, F_WFE_SD), (T5, F_RUD, F_RUD_SD)]),
]

FONT = "Liberation Sans, Arial, Helvetica, sans-serif"
AXIS_COLOR = "#2b2b2b"

# page grid: on-screen pixel positions -> paper fractions of the 1446 x 865 figure
GRID_SX, GRID_OX = 0.987, 4.0
GRID_SY, GRID_OY = 0.977, 8.7


def px_x(v):
    return ((v - GRID_OX) / GRID_SX) / W


def px_y(v):
    return 1 - ((v - GRID_OY) / GRID_SY) / H


fig = go.Figure()
layout = dict(
    width=W, height=H, margin=dict(l=0, r=0, t=0, b=0),
    paper_bgcolor="white", plot_bgcolor="white",
    font=dict(family=FONT, color="#1a1a1a"),
    showlegend=True,
    legend=dict(x=px_x(315), y=px_y(458), xanchor="left", yanchor="top",
                bgcolor="white", bordercolor="#333333", borderwidth=1,
                font=dict(family=FONT, size=19, color="#111111"),
                tracegroupgap=0, itemwidth=56),
)
annotations = []

for i, p in enumerate(PANELS):
    n = "" if i == 0 else str(i + 1)
    xa, ya = "x" + n, "y" + n
    for k, (t, mean, sd) in enumerate(p["data"]):
        assert len(t) == len(mean) == len(sd), (p["title"], SERIES[k])
    # SD bars first, so every mean curve sits on top of all bars
    for k, (t, mean, sd) in enumerate(p["data"]):
        fig.add_trace(go.Scatter(
            x=t, y=mean, mode="markers", marker=dict(size=1, opacity=0),
            showlegend=False, legendgroup=SERIES[k],
            error_y=dict(type="data", array=sd, visible=True, color=BAR_COLORS[k],
                         thickness=2.0 if t is T2 else 1.4, width=2),
            xaxis=xa, yaxis=ya, hoverinfo="skip",
        ))
    for k, (t, mean, sd) in enumerate(p["data"]):
        fig.add_trace(go.Scatter(
            x=t, y=mean, mode="lines", name=SERIES[k], legendgroup=SERIES[k],
            showlegend=(i == 0),
            line=dict(color=LINE_COLORS[k], width=3.6),
            xaxis=xa, yaxis=ya, hoverinfo="skip",
        ))
    x0, x1 = p["xpx"]
    ytop, ybot = p["ypx"]
    common = dict(showgrid=False, zeroline=False, showline=True, linecolor=AXIS_COLOR,
                  linewidth=1, ticks="outside", ticklen=6, tickwidth=1, tickcolor=AXIS_COLOR,
                  tickfont=dict(family=FONT, size=17, color="#1a1a1a"))
    layout["xaxis" + n] = dict(
        domain=[px_x(x0), px_x(x1)], anchor=ya, range=[0, 100],
        tickvals=X_TICKS, ticktext=[str(v) for v in X_TICKS], ticklabelstandoff=-4,
        minor=dict(ticks="outside", ticklen=3, tickvals=[10, 30, 50, 70, 90],
                   tickcolor=AXIS_COLOR),
        **common)
    yt = p["ticks"]
    minor_vals = [round(v + p["minor"], 4) for v in yt[:-1]]
    layout["yaxis" + n] = dict(
        domain=[px_y(ybot), px_y(ytop)], anchor=xa, range=list(p["yr"]),
        tickvals=yt, ticktext=[f"{v:.1f}" for v in yt],
        minor=dict(ticks="outside", ticklen=3, tickvals=minor_vals, tickcolor=AXIS_COLOR),
        **common)
    top_row = ytop < 200
    # panel title
    annotations.append(dict(text=p["title"], xref="paper", yref="paper",
                            x=px_x(p["tpx"][0]), y=px_y(p["tpx"][1]),
                            xanchor="left", yanchor="middle", showarrow=False,
                            font=dict(family=FONT, size=31, color="#111111")))
    # x-axis title
    annotations.append(dict(text=X_TITLE, xref="paper", yref="paper",
                            x=px_x((x0 + x1) / 2),
                            y=px_y(417) if top_row else px_y(849),
                            xanchor="center", yanchor="middle",
                            showarrow=False,
                            font=dict(family=FONT, size=29, color="#111111")))
    if p["ytitle"]:
        annotations.append(dict(text=Y_TITLE, xref="paper", yref="paper",
                                x=px_x(p["ytitle"][0]), y=px_y(p["ytitle"][1]),
                                xanchor="center", yanchor="middle", textangle=-90,
                                showarrow=False,
                                font=dict(family=FONT, size=23, color="#111111")))

layout["annotations"] = annotations
fig.update_layout(**layout)
fig.write_html("out.html")
